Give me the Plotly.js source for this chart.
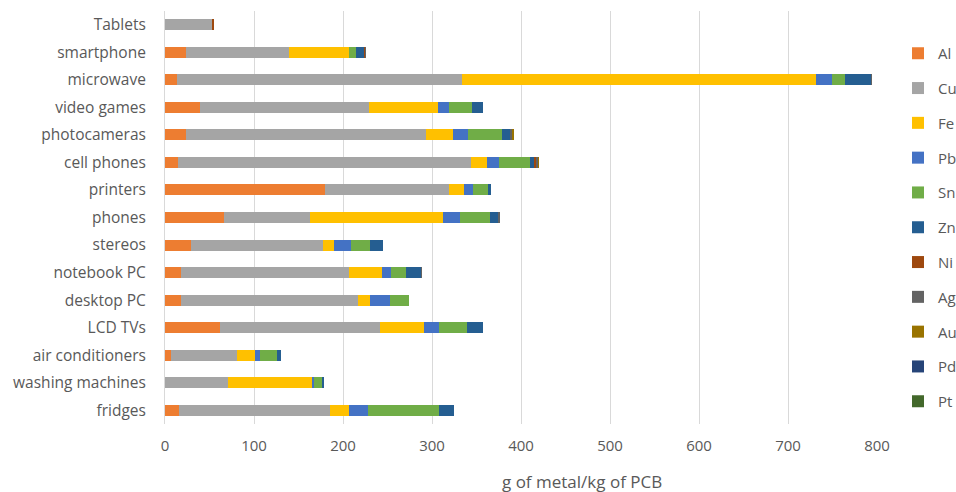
<!DOCTYPE html>
<html>
<head>
<meta charset="utf-8">
<script src="https://cdn.plot.ly/plotly-3.0.1.min.js"></script>
<style>html,body{margin:0;padding:0;background:#fff;}#chart{width:956px;height:492px;}</style>
</head>
<body>
<div id="chart"></div>
<script>
const categories = ['Tablets','smartphone','microwave','video games','photocameras','cell phones','printers','phones','stereos','notebook PC','desktop PC','LCD TVs','air conditioners','washing machines','fridges'];
const metals = ['Al','Cu','Fe','Pb','Sn','Zn','Ni','Ag','Au','Pd','Pt'];
const colors = ['#ED7D31','#A5A5A5','#FFC000','#4472C4','#70AD47','#255E91','#9E480E','#636363','#997300','#264478','#43682B'];
const xTitle = 'g of metal/kg of PCB';

const Al = [0, 23.6, 13.5, 39.7, 23.6, 14.6, 179.4, 66, 28.8, 17.6, 17.6, 62, 6.7, 0, 15.7];
const Cu = [53, 116, 320, 189.5, 270, 329, 140, 96.5, 149, 189.5, 199.5, 180, 74.5, 70.4, 170];
const Fe = [0, 67, 398, 77, 30, 18, 16.5, 150, 12.5, 37, 13, 49, 20, 95, 21];
const Pb = [0, 0, 18, 13, 17, 13.5, 10.5, 18.5, 19, 10, 23, 17, 5.5, 2, 21];
const Sn = [0, 8, 15, 26, 38.5, 34.5, 16, 34, 21.5, 16.5, 20.5, 31, 19, 9.5, 80];
const Zn = [0, 9.5, 28.5, 12.5, 9, 5.5, 4.3, 9, 14, 17, 0, 18, 5, 2, 17];
const Ni = [2, 1, 0, 0, 0, 2, 0, 0, 0, 0, 0, 0, 0, 0, 0];
const Ag = [0, 1, 1, 0, 2, 1.5, 0, 2, 0, 1, 1, 0, 0, 0, 0];
const Au = [0, 0, 0, 0, 2, 1.5, 0, 0, 0, 0, 0, 0, 0, 0, 0];
const Pd = [0, 0, 0, 0, 0, 0, 0, 0, 0, 0, 0, 0, 0, 0, 0];
const Pt = [0, 0, 0, 0, 0, 0, 0, 0, 0, 0, 0, 0, 0, 0, 0];
const seriesValues = [Al, Cu, Fe, Pb, Sn, Zn, Ni, Ag, Au, Pd, Pt];

const traces = metals.map((m, i) => ({
  type: 'bar',
  orientation: 'h',
  name: m,
  legendgroup: m,
  y: categories,
  x: seriesValues[i],
  marker: {color: colors[i], line: {width: 0}},
  hoverinfo: 'x+y+name'
}));

const L = 165, R = 79, T = 11, B = 68;
const plotW = 956 - L - R, plotH = 492 - T - B;

const layout = {
  width: 956, height: 492,
  barmode: 'stack',
  bargap: 0.6,
  paper_bgcolor: '#fff', plot_bgcolor: '#fff',
  margin: {l: L, r: R, t: T, b: B, autoexpand: false},
  font: {family: 'Open Sans, sans-serif', color: '#595959', size: 15},
  xaxis: {
    range: [0, 800], dtick: 100, tick0: 0,
    showgrid: true, gridcolor: '#D9D9D9', gridwidth: 1,
    zeroline: false, showline: false, ticks: '',
    tickfont: {size: 15, color: '#595959'},
    ticklabelstandoff: 11
  },
  yaxis: {
    type: 'category', categoryorder: 'array', categoryarray: categories,
    autorange: 'reversed',
    showgrid: false, zeroline: false,
    showline: true, linecolor: '#D9D9D9', linewidth: 1, ticks: '',
    tickfont: {size: 15.5, color: '#595959'},
    ticklabelstandoff: 15
  },
  annotations: [{
    text: xTitle, xref: 'paper', yref: 'paper',
    x: (582 - L) / plotW, y: -(482 - (492 - B)) / plotH,
    xanchor: 'center', yanchor: 'middle', showarrow: false,
    font: {size: 17, color: '#595959'}
  }],
  showlegend: true,
  legend: {
    xref: 'paper', yref: 'paper',
    x: (898 - L) / plotW, xanchor: 'left',
    y: 1 - (37 - T) / plotH, yanchor: 'top',
    traceorder: 'grouped', tracegroupgap: 12.3,
    font: {size: 15, color: '#595959'},
    bgcolor: 'rgba(0,0,0,0)', itemwidth: 30
  }
};

Plotly.newPlot('chart', traces, layout, {displayModeBar: false, staticPlot: true});
</script>
</body>
</html>
